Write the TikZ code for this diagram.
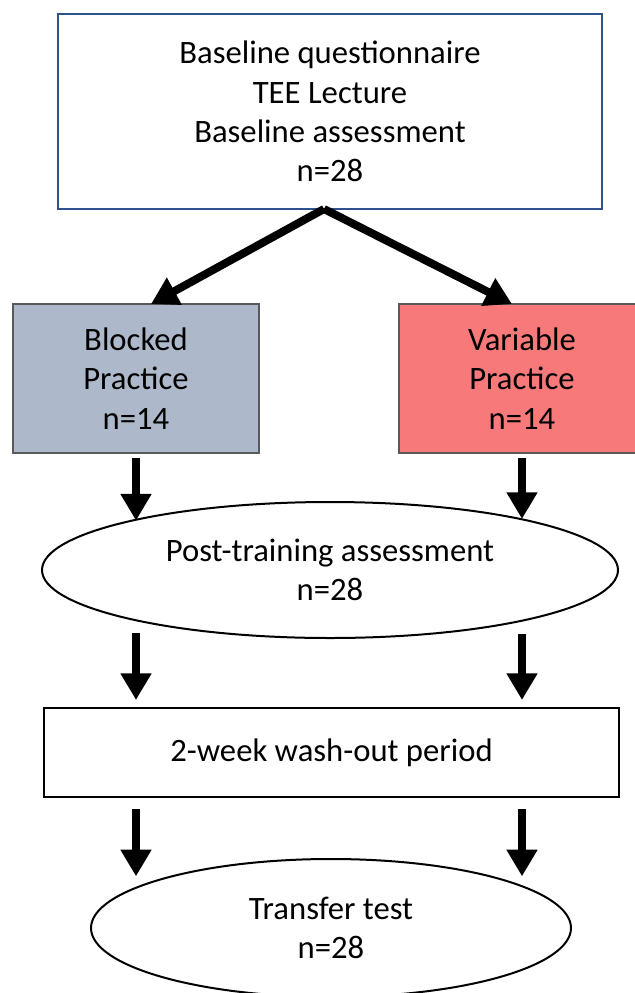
\documentclass[tikz,border=0pt]{standalone}
\usepackage{fontspec}
\setmainfont{Carlito}
\usetikzlibrary{arrows.meta,shapes.geometric,calc}

\definecolor{boxblue}{RGB}{47,82,143}
\definecolor{blockfill}{RGB}{173,185,202}
\definecolor{varfill}{RGB}{248,121,121}
\definecolor{edgegray}{RGB}{89,89,89}

\tikzset{
	stage/.style={draw,line width=1.5pt,align=center,inner sep=0pt,outer sep=0pt,
		font=\fontsize{24.5}{29.5}\selectfont},
	group/.style={stage,draw=edgegray,minimum width=184.5pt,minimum height=111.75pt},
	test/.style={stage,ellipse},
	flow/.style={line width=6pt,-{Triangle[width=22pt,length=20pt]}},
}

\begin{document}
\begin{tikzpicture}[x=0.75pt,y=-0.75pt]
\useasboundingbox (0,0) rectangle (635,993);

%
% Eingangsphase
%
\node[stage,draw=boxblue,minimum width=408pt,minimum height=146.25pt] (intake) at (330,111.5)
	{Baseline questionnaire\\TEE Lecture\\Baseline assessment\\n=28};

%
% die beiden Gruppen
%
\node[group,fill=blockfill] (blocked) at (136,378.5) {Blocked\\Practice\\n=14};
\node[group,fill=varfill] (variable) at (522,378.5) {Variable\\Practice\\n=14};

%
% Tests und Pause
%
\node[test,minimum width=432pt,minimum height=102pt] (post) at (330,570)
	{Post-training assessment\\n=28};
\node[stage,minimum width=431.25pt,minimum height=66.75pt] (washout) at (331.5,752.5)
	{2-week wash-out period};
\node[test,minimum width=360pt,minimum height=103.5pt] (transfer) at (331,928)
	{Transfer test\\n=28};

%
% Pfeile
%
\draw[flow] ([xshift=-4.5pt]intake.south) -- ($(blocked.north)+(15,0)$);
\draw[flow] ([xshift=-4.5pt]intake.south) -- ($(variable.north)+(-10,0)$);

\draw[flow] ([yshift=-4pt]blocked.south) -- (blocked.south |- post.166);
\draw[flow] ([yshift=-4pt]variable.south) -- (variable.south |- post.15);

\draw[flow] ([yshift=-10pt]blocked.south |- post.194) -- ([yshift=6pt]blocked.south |- washout.north);
\draw[flow] ([yshift=-10pt]variable.south |- post.345) -- ([yshift=6pt]variable.south |- washout.north);

\draw[flow] ([yshift=-9pt]blocked.south |- washout.south) -- (blocked.south |- transfer.162);
\draw[flow] ([yshift=-9pt]variable.south |- washout.south) -- (variable.south |- transfer.18);

\end{tikzpicture}
\end{document}
